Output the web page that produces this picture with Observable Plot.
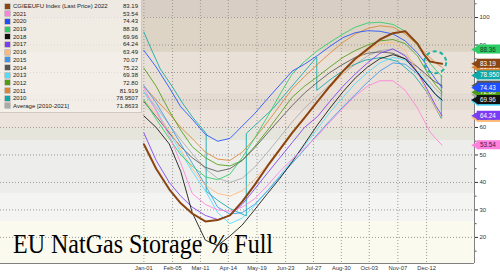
<!DOCTYPE html>
<html><head><meta charset="utf-8">
<script src="https://cdn.jsdelivr.net/npm/d3@7"></script>
<script src="https://cdn.jsdelivr.net/npm/@observablehq/plot@0.6"></script>
<style>
html,body{margin:0;padding:0;background:#fff;}
#wrap{position:relative;width:500px;height:273px;overflow:hidden;font-family:"Liberation Sans",Arial,sans-serif;}
#chart{position:absolute;left:0;top:0;}
#legend{position:absolute;left:0;top:0;width:141px;height:112px;background:rgba(246,244,239,0.72);border-right:1px solid #cfc9c0;border-bottom:1px solid #cfc9c0;}
.row{position:absolute;left:0;width:138px;height:8px;font-size:6px;line-height:8px;color:#222;white-space:nowrap;}
.sw{position:absolute;left:5px;top:1.5px;width:5px;height:5px;box-shadow:0 0 0 0.5px rgba(0,0,0,0.35);}
.lab{position:absolute;left:13px;}
.val{position:absolute;right:0;}
#title{position:absolute;left:13px;top:230px;font-family:"Liberation Serif","Times New Roman",serif;font-size:27.6px;line-height:1;color:#000;transform:scaleX(0.87);transform-origin:0 0;white-space:nowrap;}
</style></head>
<body><div id="wrap"><div id="chart"></div><div id="legend"></div><div id="title">EU NatGas Storage % Full</div></div>
<script>
// day-of-year sample points
const days = [0,15,31,45,59,75,90,105,120,135,151,166,181,196,212,227,243,258,273,288,304,319,334,342,349,356,364];
const v2022 = [53.9,45,37.5,32.4,28.7,25.8,26.3,28,33,39,46,52,58,63.5,69.5,75,80.5,85,88.5,92,94.3,95,90.5,86.5,84,83.6,83.19];
const v2021 = [74.4,66,57,47,36,32,30,29.5,31,34,39,44,48.5,52.5,57,62,67,71.5,75,77,77,73.5,67,62.5,58.5,56,53.54];
const v2020 = [88,82,74.5,67.5,63,57.5,55,56,60.5,65,70.5,75.5,80.5,83,86.2,89.5,92.7,94.5,95.2,95,94,91.5,87,84,80.5,77.5,74.43];
const v2019 = [70,63,56,50,46,42,41,43,49,56,64,72,79.5,84,88,91,94,96.5,98,98.3,97.5,95,90,86.5,83.5,81,78.5];
const v2018 = [64.2,60,54,44,29,19,17,20.5,24.5,30,36,41.5,47.5,54,61,67,73,78,82,85,86.5,85,80,77,74.5,72,69.96];
const v2017 = [58,48,40,35,31,28,26.5,28,32,37.5,43.5,49,54.5,60,64,69.5,75,79.5,83.5,87,88.6,86,80,76,72,68,64.24];
const v2016 = [70,65,59,52,45,39,36,35,37,41,46.5,52.5,58.5,64,69.5,74.5,79.5,84,88,90.5,91,88,80,75,71,67,63.49];
const v2015 = [75.2,69,61,54,47,39,31,28.5,29,32,37,42,47,52,57.5,62.5,67.5,72,76.5,80.5,83.5,83,79.5,77,74.5,72,70.07];
const v2014 = [69.4,64,58,53,49,45.5,44,45,48,52.5,58,63,68,72.5,76.5,80,83,85.5,87,87.5,87,85,82,80,78,76.5,75.22];
const v2013 = [72.8,66.5,58,51,44,37,29,25,27,31.5,37,42.5,48,53.5,59.5,65.5,71,76,80,83.5,85.5,84.5,80.5,77.5,75,72,69.38];
const v2012 = [81.6,75,66,59,53,49,46.5,46,48,53,59,65,71,75,78.5,82,85.5,88,90,91.5,92,90.5,86,82,78.5,75.5,72.8];
const v2011 = [75,70,65,60,56,51,48.5,48,51,56,62,68,74,78.5,83,87,91,94,96,97,96.5,94,90,87.5,85.5,83.5,81.92];
const vAvg  = [73,67.5,61,55.5,50.5,45,41.5,40,41.5,45.5,51,56.5,62,67,71.5,75.5,79.5,83,86,88,88.5,86.5,82,79,76.5,74,71.86];
// 2010 has breaks in its record
const days2010 = [0,8,20,35,48,60,70,76,76,90,105,125,125,140,158,175,195,211,211,230,250,270,290,310,330,345,363,363];
const v2010    = [94.7,89.2,81.3,74.7,68.5,63.5,60,57.8,36.8,33.5,30.5,27.8,57.8,62,67,73,80,85.6,73.5,78,82,84.5,85.5,84,79,73,63.3,78.95];

const tickDays = [0,35,69,103,138,173,207,241,275,310,345];
const tickLabels = ["Jan-01","Feb-05","Mar-11","Apr-14","May-19","Jun-23","Jul-27","Aug-30","Oct-03","Nov-07","Dec-12"];
const yTicks = [20,30,40,50,60,70,80,90,100];
const yMinor = [15,25,35,45,55,65,75,85,95,105];

const legendNames = ["CGIEEUFU Index (Last Price) 2022","2021","2020","2019","2018","2017","2016","2015","2014","2013","2012","2011","2010","Average  [2010-2021]"];
const legendKeys  = ["2022","2021","2020","2019","2018","2017","2016","2015","2014","2013","2012","2011","2010","Average"];
const lastLabels  = ["83.19","53.54","74.43","88.36","69.96","64.24","63.49","70.07","75.22","69.38","72.80","81.919","78.9507","71.8633"];
const colors = {"2022":"#8b4513","2021":"#ff80dd","2020":"#1f4fff","2019":"#2dcc66","2018":"#111111","2017":"#7b3cf5","2016":"#ffb877","2015":"#3c96f0","2014":"#555555","2013":"#4fdcff","2012":"#4f9e12","2011":"#dc8535","2010":"#0fa8a8","Average":"#aaaaaa"};
const tagText = {"2019":"#1a3a1a","2021":"#4a1a40","2016":"#3a2a10","2013":"#103a40","Average":"#222"};

const bandEdges  = [10.5,25.8,36,55.2,59.6,66.2,72.4,87.3,100,106.2];
const bandColors = ["#fbfaef","#f4f4f2","#ededeb","#e6e5dc","#ece4dc","#e4dbd2","#e9e0d8","#ddd4c6","#d9cec6"];

const seriesVals = {"2022":v2022,"2021":v2021,"2020":v2020,"2019":v2019,"2018":v2018,"2017":v2017,"2016":v2016,"2015":v2015,"2014":v2014,"2013":v2013,"2012":v2012,"2011":v2011,"Average":vAvg};
const drawOrder = ["Average","2010","2011","2012","2013","2014","2015","2016","2017","2018","2019","2020","2021","2022"];
const tagOrder = ["2011","2014","Average","2013","2015","2016","2012","2019","2022","2010","2020","2018","2017","2021"];
const highlight = [{day:355.5, value:83.7}];

const bands = bandColors.map((c,i)=>({lo:bandEdges[i], hi:bandEdges[i+1], color:c}));

function rows(key){
  if(key==="2010") return days2010.map((d,i)=>({day:d, value:v2010[i]}));
  return days.map((d,i)=>({day:d, value:seriesVals[key][i]}));
}

const marks = [
  Plot.rect(bands, {y1:"lo", y2:"hi", fill:"color"}),
  Plot.ruleY(yTicks, {stroke:"#9c9a96", strokeDasharray:"1,2"}),
  Plot.ruleX(tickDays, {stroke:"#9c9a96", strokeDasharray:"1,2"}),
];
for(const k of drawOrder){
  marks.push(Plot.line(rows(k), {x:"day", y:"value", stroke:colors[k], strokeWidth:k==="2022"?2:1, strokeOpacity:k==="2022"?1:0.85}));
}
marks.push(Plot.dot(highlight, {x:"day", y:"value", r:11, stroke:"#1db3a3", strokeWidth:2, strokeDasharray:"4,3", fill:"none"}));
marks.push(Plot.ruleY([10.5], {stroke:"#808080"}));
marks.push(Plot.ruleX([403.5], {stroke:"#808080"}));
marks.push(Plot.axisX({ticks:tickDays, tickFormat:d=>tickLabels[tickDays.indexOf(d)], tickSize:0, tickPadding:2.5, fontSize:5.8, color:"#333", label:null}));
marks.push(Plot.axisY({anchor:"right", ticks:yTicks, tickSize:3, tickPadding:2, fontSize:6, color:"#333", label:null}));
marks.push(Plot.axisY({anchor:"right", ticks:yMinor, tickSize:1.5, tickFormat:()=>"", color:"#555", label:null}));

const tags = tagOrder.map(k=>{
  const i = legendKeys.indexOf(k);
  return {key:k, label:lastLabels[i], value:+lastLabels[i], color:colors[k], tcolor:tagText[k]||"#ffffff"};
});
for(const t of tags){
  marks.push(Plot.rect([t], {x1:406.8, x2:440, y1:d=>d.value-1.65, y2:d=>d.value+1.65, fill:t.color}));
  marks.push(Plot.dot([t], {x:405.6, y:"value", symbol:"triangle", rotate:-90, r:3.2, fill:t.color, stroke:"none"}));
  marks.push(Plot.text([t], {x:410.2, y:"value", text:"label", fill:t.tcolor, fontSize:6.3, textAnchor:"start"}));
}

const chart = Plot.plot({
  width:500, height:273,
  marginLeft:0, marginRight:26, marginTop:0, marginBottom:10,
  x:{domain:[-175,403.5]},
  y:{domain:[10.5,106.2]},
  color:{type:"identity"},
  style:{background:"transparent", fontFamily:"Liberation Sans, Arial, sans-serif", overflow:"visible"},
  marks
});
document.getElementById("chart").appendChild(chart);

// legend overlay
const leg = document.getElementById("legend");
legendNames.forEach((n,i)=>{
  const r = document.createElement("div");
  r.className = "row";
  r.style.top = (6 + i*7.69 - 4) + "px";
  r.innerHTML = `<span class="sw" style="background:${colors[legendKeys[i]]}"></span><span class="lab">${n}</span><span class="val">${lastLabels[i]}</span>`;
  leg.appendChild(r);
});
</script>
</body></html>
